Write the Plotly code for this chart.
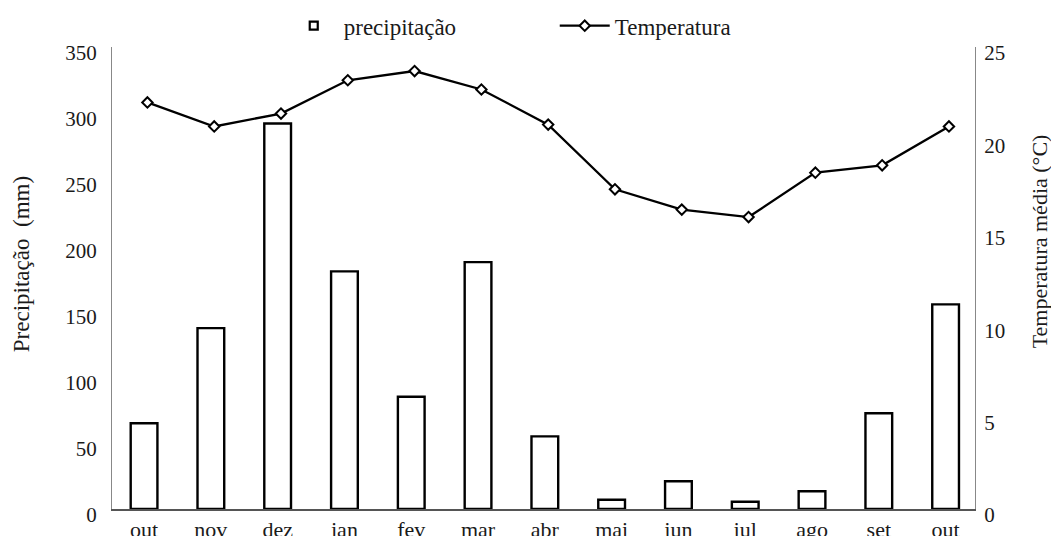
import plotly.graph_objects as go

months = ["out", "nov", "dez", "jan", "fev", "mar", "abr", "mai", "jun", "jul", "ago", "set", "out"]
precipitacao = [65, 137, 292, 180, 85, 187, 55, 7, 21, 5.5, 13.5, 72.5, 155]
temperatura = [22.0, 20.7, 21.4, 23.2, 23.7, 22.7, 20.8, 17.3, 16.2, 15.8, 18.2, 18.6, 20.7]
precip_ticks = [0, 50, 100, 150, 200, 250, 300, 350]
temp_ticks = [0, 5, 10, 15, 20, 25]

pos = list(range(len(months)))
FONT = "Liberation Serif"
TXT = "#1a1a1a"

fig = go.Figure()
fig.add_trace(go.Bar(
    x=pos, y=precipitacao, width=0.4, showlegend=False,
    marker=dict(color="white", line=dict(color="black", width=2.4)),
    yaxis="y", xaxis="x",
))
# legend-only entry for precipitação (small square symbol)
fig.add_trace(go.Scatter(
    x=[None], y=[None], mode="markers", name="precipitação",
    marker=dict(symbol="square-open", size=8, color="black", line=dict(width=2.2)),
))
fig.add_trace(go.Scatter(
    x=pos, y=temperatura, mode="lines+markers", name="Temperatura",
    line=dict(color="black", width=2.3),
    marker=dict(symbol="diamond", size=8, color="white", line=dict(color="black", width=2)),
    yaxis="y2", xaxis="x2",
))

fig.update_layout(
    width=1059, height=536,
    margin=dict(l=104, r=92, t=39, b=35, autoexpand=False),
    paper_bgcolor="white", plot_bgcolor="white",
    font=dict(family=FONT, size=21, color=TXT),
    xaxis=dict(
        range=[-0.48, 12.44], tickvals=pos, ticktext=months,
        showgrid=False, zeroline=False, showline=True, linecolor="#555", linewidth=1.5,
        ticks="", tickfont=dict(size=22, family=FONT, color=TXT), automargin=False,
    ),
    xaxis2=dict(
        range=[-0.53, 12.39], overlaying="x", visible=False,
    ),
    yaxis=dict(
        range=[0, 350], tickvals=precip_ticks, showgrid=False, zeroline=False,
        showline=True, linecolor="#888", linewidth=1, ticks="",
        tickfont=dict(size=21, family=FONT, color=TXT), ticklabelstandoff=10, ticklabelshift=6,
        automargin=False,
    ),
    yaxis2=dict(
        range=[0, 25], tickvals=temp_ticks, overlaying="y", side="right",
        showgrid=False, zeroline=False, showline=True, linecolor="#888", linewidth=1,
        ticks="", tickfont=dict(size=21, family=FONT, color=TXT), ticklabelstandoff=4, ticklabelshift=6,
        automargin=False,
    ),
    legend=dict(
        orientation="h", x=0.199, xanchor="left", y=1.046, yanchor="middle",
        font=dict(size=23, family=FONT, color=TXT),
        itemwidth=50,
        entrywidth=206, entrywidthmode="pixels", bgcolor="rgba(0,0,0,0)",
    ),
    annotations=[
        dict(text="Precipitação  (mm)", textangle=-90, xref="paper", yref="paper",
             x=-0.1054, y=0.530, xanchor="center", yanchor="middle", showarrow=False,
             font=dict(size=23, family=FONT, color=TXT)),
        dict(text="Temperatura média (°C)", textangle=-90, xref="paper", yref="paper",
             x=1.0745, y=0.580, xanchor="center", yanchor="middle", showarrow=False,
             font=dict(size=22, family=FONT, color=TXT)),
    ],
    bargap=0.6,
)

fig.write_html("out.html")
